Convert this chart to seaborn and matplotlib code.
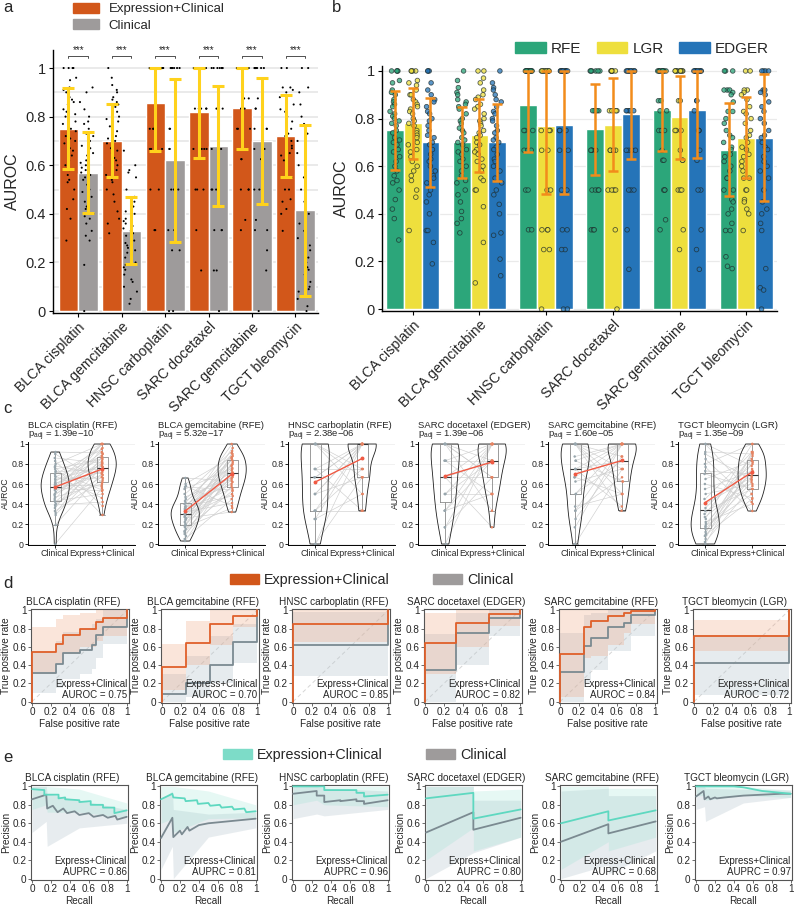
import numpy as np
import pandas as pd
import matplotlib
matplotlib.use("Agg")
import matplotlib.pyplot as plt
import seaborn as sns
from matplotlib.patches import Patch

# ---------------------------------------------------------------- data
drugs = ["BLCA cisplatin", "BLCA gemcitabine", "HNSC carboplatin",
         "SARC docetaxel", "SARC gemcitabine", "TGCT bleomycin"]
methods = ["RFE", "LGR", "EDGER"]
best_method = ["RFE", "RFE", "RFE", "EDGER", "RFE", "LGR"]
models = ["Expression+Clinical", "Clinical"]

# panel b : mean AUROC and SD per feature-selection method
rfe_mean = [0.75, 0.70, 0.855, 0.755, 0.835, 0.67]
rfe_sd = [0.167, 0.15, 0.195, 0.19, 0.17, 0.195]
lgr_mean = [0.78, 0.73, 0.77, 0.775, 0.805, 0.72]
lgr_sd = [0.148, 0.153, 0.285, 0.195, 0.175, 0.17]
edger_mean = [0.70, 0.70, 0.775, 0.82, 0.835, 0.72]
edger_sd = [0.187, 0.163, 0.29, 0.19, 0.20, 0.268]

# individual AUROC values
rfe_points = [
    [1.0, 1.0, 1.0, 1.0, 0.96, 0.95, 0.92, 0.91, 0.9, 0.88, 0.87, 0.86, 0.85, 0.83, 0.82, 0.81, 0.8, 0.79, 0.78, 0.77,
     0.75, 0.74, 0.72, 0.71, 0.7, 0.69, 0.67, 0.66, 0.64, 0.62, 0.6, 0.58, 0.56, 0.54, 0.53, 0.5, 0.46, 0.42, 0.38, 0.29],
    [1.0, 0.96, 0.93, 0.91, 0.9, 0.88, 0.87, 0.86, 0.85, 0.84, 0.82, 0.8, 0.79, 0.78, 0.76, 0.75, 0.74, 0.72, 0.71, 0.7,
     0.69, 0.67, 0.66, 0.65, 0.63, 0.62, 0.6, 0.58, 0.56, 0.54, 0.53, 0.5, 0.48, 0.45, 0.41, 0.38, 0.36, 0.32],
    [1.0, 1.0, 1.0, 1.0, 1.0, 1.0, 1.0, 1.0, 1.0, 1.0, 1.0, 1.0, 0.75, 0.75, 0.75, 0.667, 0.667, 0.667, 0.5, 0.5,
     0.333, 0.333],
    [1.0, 1.0, 1.0, 1.0, 1.0, 1.0, 0.833, 0.833, 0.833, 0.833, 0.833, 0.667, 0.667, 0.667, 0.667, 0.5, 0.5, 0.5, 0.5,
     0.333, 0.333, 0.333],
    [1.0, 1.0, 1.0, 1.0, 1.0, 1.0, 1.0, 1.0, 1.0, 1.0, 0.875, 0.875, 0.833, 0.833, 0.75, 0.75, 0.75, 0.667, 0.625,
     0.625, 0.5, 0.5, 0.5, 0.375, 0.333],
    [1.0, 1.0, 1.0, 0.92, 0.92, 0.92, 0.91, 0.9, 0.87, 0.83, 0.83, 0.8, 0.78, 0.75, 0.73, 0.72, 0.7, 0.68, 0.67, 0.65,
     0.64, 0.62, 0.6, 0.58, 0.55, 0.55, 0.5, 0.5, 0.46, 0.45, 0.42, 0.4, 0.36, 0.33, 0.33, 0.22, 0.18, 0.17],
]
lgr_points = [
    [1.0, 1.0, 1.0, 1.0, 0.96, 0.95, 0.94, 0.92, 0.9, 0.9, 0.88, 0.87, 0.86, 0.85, 0.84, 0.83, 0.82, 0.8, 0.79, 0.78,
     0.77, 0.75, 0.74, 0.73, 0.72, 0.7, 0.69, 0.67, 0.66, 0.64, 0.62, 0.6, 0.58, 0.56, 0.54, 0.5, 0.47, 0.33],
    [1.0, 1.0, 0.97, 0.95, 0.92, 0.9, 0.89, 0.88, 0.86, 0.85, 0.84, 0.82, 0.8, 0.79, 0.78, 0.77, 0.75, 0.74, 0.73, 0.72,
     0.7, 0.69, 0.67, 0.66, 0.65, 0.63, 0.62, 0.6, 0.58, 0.55, 0.54, 0.5, 0.5, 0.43, 0.28, 0.11],
    [1.0, 1.0, 1.0, 1.0, 1.0, 1.0, 1.0, 1.0, 1.0, 1.0, 0.75, 0.75, 0.75, 0.667, 0.667, 0.5, 0.5, 0.333, 0.333, 0.333,
     0.25, 0.25, 0.0],
    [1.0, 1.0, 1.0, 1.0, 1.0, 1.0, 1.0, 0.833, 0.833, 0.833, 0.833, 0.833, 0.667, 0.667, 0.667, 0.667, 0.5, 0.5, 0.5,
     0.5, 0.333, 0.0],
    [1.0, 1.0, 1.0, 1.0, 1.0, 1.0, 1.0, 1.0, 1.0, 0.875, 0.875, 0.75, 0.75, 0.75, 0.667, 0.625, 0.625, 0.5, 0.5, 0.5,
     0.333, 0.25],
    [1.0, 1.0, 0.92, 0.92, 0.91, 0.9, 0.88, 0.85, 0.83, 0.82, 0.8, 0.78, 0.75, 0.73, 0.72, 0.7, 0.68, 0.67, 0.65, 0.64,
     0.62, 0.6, 0.58, 0.55, 0.55, 0.5, 0.5, 0.46, 0.45, 0.42, 0.4, 0.33],
]
edger_points = [
    [1.0, 1.0, 1.0, 0.95, 0.92, 0.9, 0.88, 0.87, 0.85, 0.83, 0.82, 0.8, 0.79, 0.77, 0.75, 0.73, 0.72, 0.7, 0.69, 0.67,
     0.65, 0.63, 0.62, 0.6, 0.58, 0.56, 0.55, 0.53, 0.5, 0.48, 0.45, 0.4, 0.33, 0.33, 0.28, 0.19],
    [1.0, 0.95, 0.93, 0.92, 0.9, 0.88, 0.87, 0.85, 0.83, 0.82, 0.8, 0.79, 0.77, 0.75, 0.74, 0.72, 0.71, 0.7, 0.68, 0.67,
     0.65, 0.63, 0.62, 0.6, 0.58, 0.55, 0.53, 0.5, 0.48, 0.44, 0.4, 0.32, 0.31, 0.21, 0.14],
    [1.0, 1.0, 1.0, 1.0, 1.0, 1.0, 1.0, 1.0, 1.0, 1.0, 1.0, 0.75, 0.75, 0.75, 0.667, 0.667, 0.5, 0.5, 0.333, 0.333,
     0.25, 0.25, 0.0, 0.0],
    [1.0, 1.0, 1.0, 1.0, 1.0, 1.0, 1.0, 1.0, 1.0, 0.833, 0.833, 0.833, 0.833, 0.833, 0.667, 0.667, 0.667, 0.667, 0.5,
     0.5, 0.5, 0.333, 0.167],
    [1.0, 1.0, 1.0, 1.0, 1.0, 1.0, 1.0, 1.0, 1.0, 1.0, 0.875, 0.875, 0.833, 0.75, 0.75, 0.75, 0.667, 0.625, 0.5, 0.5,
     0.333, 0.25, 0.167],
    [1.0, 1.0, 1.0, 1.0, 0.92, 0.92, 0.91, 0.9, 0.87, 0.85, 0.83, 0.8, 0.78, 0.75, 0.73, 0.72, 0.7, 0.68, 0.67, 0.64,
     0.62, 0.6, 0.58, 0.55, 0.5, 0.45, 0.42, 0.4, 0.36, 0.33, 0.17, 0.09, 0.08, 0.0],
]

# panel a : clinical-only model
clin_mean = [0.57, 0.33, 0.62, 0.68, 0.70, 0.415]
clin_sd = [0.167, 0.138, 0.335, 0.248, 0.258, 0.352]
clin_points = [
    [0.62, 0.45, 0.8, 0.55, 0.36, 0.7, 0.58, 0.92, 0.49, 0.67, 0.31, 0.6, 0.75, 0.52, 0.42, 0.86, 0.57, 0.38, 0.64,
     0.29, 0.72, 0.5, 0.61, 0.19, 0.78, 0.54, 0.4, 0.65, 0.33, 0.9, 0.47, 0.59, 0.0, 0.73, 0.56, 0.43, 0.68, 0.39,
     0.83, 0.77],
    [0.35, 0.22, 0.5, 0.13, 0.41, 0.29, 0.6, 0.18, 0.33, 0.45, 0.08, 0.27, 0.38, 0.2, 0.55, 0.31, 0.03, 0.43, 0.25,
     0.36, 0.12, 0.47, 0.3, 0.19, 0.66, 0.24, 0.4, 0.1, 0.34, 0.57, 0.15, 0.28, 0.37, 0.05, 0.32, 0.58, 0.17, 0.26],
    [0.667, 1.0, 0.333, 0.5, 1.0, 0.0, 0.75, 1.0, 0.25, 0.667, 1.0, 0.5, 0.333, 1.0, 0.75, 0.0, 1.0, 0.5, 0.25, 1.0,
     0.333, 0.75],
    [0.5, 1.0, 0.167, 0.833, 0.667, 1.0, 0.333, 0.0, 1.0, 0.667, 0.5, 1.0, 0.833, 0.333, 1.0, 0.667, 0.167, 1.0, 0.5,
     0.833, 0.333, 1.0, 0.667],
    [0.75, 1.0, 0.333, 0.5, 1.0, 0.875, 0.167, 1.0, 0.667, 0.833, 0.25, 1.0, 0.5, 0.75, 0.0, 1.0, 0.625, 0.333, 1.0,
     0.833, 0.375, 1.0, 0.667, 0.75, 1.0],
    [0.25, 0.8, 0.1, 0.45, 0.05, 0.92, 0.3, 0.17, 0.65, 0.0, 0.36, 1.0, 0.12, 0.55, 0.2, 0.73, 0.08, 0.4, 0.27, 0.9,
     0.15, 0.5, 0.02, 0.7, 0.33, 1.0, 0.18, 0.6, 0.09, 0.85, 0.22, 0.77],
]

# panel c : adjusted p-values
padj_text = ["1.39e\u221210", "5.32e\u221217", "2.38e\u221206", "1.39e\u221206", "1.60e\u221205", "1.35e\u221209"]

# panel d : ROC curves (step, post) and confidence bands
roc_expr_fpr = [[0, 0, 0.25, 0.33, 0.5, 0.67, 0.75, 1, 1], [0, 0, 0.25, 0.5, 0.75, 1, 1], [0, 0, 1, 1],
                [0, 0, 0.33, 0.67, 1, 1], [0, 0, 0.25, 0.33, 0.5, 0.67, 0.75, 1, 1], [0, 0, 1, 1]]
roc_expr_tpr = [[0, 0.54, 0.63, 0.73, 0.80, 0.87, 0.92, 0.92, 1.0], [0, 0.38, 0.64, 0.85, 0.94, 0.94, 1.0],
                [0, 0.85, 0.85, 1.0], [0, 0.64, 0.86, 0.96, 0.96, 1.0],
                [0, 0.52, 0.82, 0.88, 0.94, 0.97, 0.99, 0.99, 1.0], [0, 0.72, 0.72, 1.0]]
roc_expr_lo = [[0, 0.30, 0.42, 0.52, 0.60, 0.66, 0.72, 0.72, 1.0], [0, 0.13, 0.40, 0.62, 0.82, 0.82, 1.0],
               [0, 0.65, 0.65, 1.0], [0, 0.30, 0.60, 0.83, 0.83, 1.0],
               [0, 0.05, 0.48, 0.50, 0.62, 0.75, 0.85, 0.85, 1.0], [0, 0.55, 0.55, 1.0]]
roc_expr_hi = [[0, 0.82, 0.90, 0.95, 0.97, 1.0, 1.0, 1.0, 1.0], [0, 0.63, 0.88, 1.0, 1.0, 1.0, 1.0],
               [0, 1.0, 1.0, 1.0], [0, 0.97, 1.0, 1.0, 1.0, 1.0],
               [0, 1.0, 1.0, 1.0, 1.0, 1.0, 1.0, 1.0, 1.0], [0, 0.89, 0.89, 1.0]]
roc_clin_fpr = [[0, 0, 0.25, 0.33, 0.5, 0.63, 0.67, 0.75, 1, 1], [0, 0, 0.25, 0.5, 0.75, 1, 1], [0, 0, 1, 1],
                [0, 0, 0.33, 0.67, 1, 1], [0, 0, 0.25, 0.33, 0.5, 0.67, 0.75, 1, 1], [0, 0, 1, 1]]
roc_clin_tpr = [[0, 0.31, 0.41, 0.53, 0.57, 0.62, 0.73, 0.82, 0.82, 1.0], [0, 0.08, 0.20, 0.40, 0.65, 0.65, 1.0],
                [0, 0.62, 0.62, 1.0], [0, 0.35, 0.75, 0.92, 0.92, 1.0],
                [0, 0.33, 0.61, 0.70, 0.82, 0.86, 0.95, 0.95, 1.0], [0, 0.42, 0.42, 1.0]]
roc_clin_lo = [[0, 0.09, 0.15, 0.25, 0.30, 0.36, 0.48, 0.63, 0.63, 1.0], [0, 0.0, 0.05, 0.20, 0.42, 0.42, 1.0],
               [0, 0.28, 0.28, 1.0], [0, 0.0, 0.40, 0.72, 0.72, 1.0],
               [0, 0.0, 0.20, 0.35, 0.55, 0.55, 0.72, 0.72, 1.0], [0, 0.07, 0.07, 1.0]]
roc_clin_hi = [[0, 0.55, 0.66, 0.76, 0.80, 0.85, 0.90, 1.0, 1.0, 1.0], [0, 0.30, 0.50, 0.72, 0.85, 0.85, 1.0],
               [0, 0.98, 0.98, 1.0], [0, 0.74, 0.97, 1.0, 1.0, 1.0],
               [0, 0.75, 0.95, 0.97, 1.0, 1.0, 1.0, 1.0, 1.0], [0, 0.73, 0.73, 1.0]]
auroc_values = [0.75, 0.70, 0.85, 0.82, 0.84, 0.72]

# panel e : precision-recall curves and confidence bands
pr_expr_recall = [[0, 0.13, 0.13, 0.28, 0.28, 0.35, 0.35, 0.5, 0.5, 0.62, 0.62, 0.75, 0.75, 0.87, 0.87, 1.0],
                  [0, 0.12, 0.13, 0.25, 0.26, 0.38, 0.39, 0.5, 0.52, 0.62, 0.64, 0.75, 0.77, 0.88, 0.9, 1.0],
                  [0, 0.33, 0.33, 0.67, 0.67, 0.75, 0.75, 1.0],
                  [0, 0.5, 0.5, 1.0], [0, 0.5, 0.5, 1.0],
                  [0, 0.4, 0.5, 0.6, 0.7, 0.8, 0.9, 1.0]]
pr_expr_precision = [[0.97, 0.96, 0.91, 0.91, 0.87, 0.88, 0.86, 0.85, 0.83, 0.84, 0.80, 0.80, 0.77, 0.77, 0.71, 0.74],
                     [0.86, 0.92, 0.88, 0.87, 0.84, 0.85, 0.81, 0.82, 0.79, 0.80, 0.77, 0.78, 0.75, 0.76, 0.72, 0.73],
                     [1.0, 1.0, 0.96, 0.96, 0.93, 0.93, 0.89, 0.91],
                     [0.87, 0.93, 0.65, 0.75], [0.60, 0.73, 0.63, 0.74],
                     [1.0, 1.0, 0.99, 0.97, 0.95, 0.94, 0.93, 0.92]]
pr_clin_recall = [[0, 0.15, 0.16, 0.22, 0.27, 0.33, 0.37, 0.45, 0.5, 0.6, 0.65, 0.75, 0.8, 0.88, 0.9, 1.0],
                  [0, 0.12, 0.13, 0.2, 0.22, 0.28, 0.3, 0.4, 0.5, 0.6, 0.7, 0.8, 0.9, 1.0],
                  [0, 0.25, 0.25, 0.33, 0.33, 0.5, 0.5, 0.67, 0.67, 0.75, 0.75, 1.0],
                  [0, 0.5, 0.5, 1.0], [0, 0.5, 0.5, 1.0],
                  [0, 0.08, 0.09, 0.13, 0.15, 0.2, 0.22, 0.3, 0.5, 0.7, 0.9, 1.0]]
pr_clin_precision = [[0.86, 0.91, 0.76, 0.79, 0.72, 0.76, 0.71, 0.73, 0.69, 0.71, 0.67, 0.69, 0.66, 0.68, 0.64, 0.67],
                     [0.44, 0.66, 0.45, 0.52, 0.48, 0.56, 0.52, 0.58, 0.60, 0.61, 0.62, 0.63, 0.64, 0.65],
                     [0.92, 0.95, 0.90, 0.90, 0.83, 0.85, 0.84, 0.86, 0.84, 0.84, 0.81, 0.85],
                     [0.50, 0.72, 0.53, 0.66], [0.40, 0.59, 0.49, 0.62],
                     [0.89, 0.95, 0.86, 0.89, 0.86, 0.88, 0.87, 0.88, 0.90, 0.91, 0.92, 0.92]]
pr_band_recall = [[0, 0.15, 0.16, 0.5, 1.0], [0, 0.12, 0.13, 0.5, 1.0], [0, 0.25, 0.33, 1.0],
                  [0, 0.5, 0.5, 1.0], [0, 0.5, 0.5, 1.0], [0, 0.09, 0.1, 0.5, 1.0]]
pr_expr_lo = [[0.75, 0.80, 0.72, 0.72, 0.66], [0.60, 0.65, 0.50, 0.65, 0.66], [0.80, 0.85, 0.80, 0.78],
              [0.20, 0.55, 0.30, 0.45], [0.10, 0.40, 0.30, 0.45], [0.90, 0.90, 0.85, 0.90, 0.88]]
pr_expr_hi = [[1.0, 1.0, 1.0, 0.97, 0.82], [1.0, 1.0, 1.0, 0.95, 0.80], [1.0, 1.0, 1.0, 1.0],
              [1.0, 1.0, 0.95, 0.97], [1.0, 1.0, 0.98, 0.98], [1.0, 1.0, 1.0, 1.0, 0.96]]
pr_clin_lo = [[0.50, 0.62, 0.35, 0.55, 0.60], [0.10, 0.35, 0.0, 0.45, 0.55], [0.65, 0.70, 0.68, 0.75],
              [0.0, 0.28, 0.28, 0.45], [0.0, 0.15, 0.05, 0.30], [0.75, 0.78, 0.62, 0.82, 0.88]]
pr_clin_hi = [[1.0, 1.0, 0.92, 0.85, 0.75], [0.85, 0.95, 0.75, 0.70, 0.72], [1.0, 1.0, 0.98, 0.95],
              [1.0, 1.0, 0.85, 0.85], [0.95, 0.98, 0.90, 0.90], [1.0, 1.0, 0.98, 0.97, 0.96]]
auprc_values = [0.86, 0.81, 0.96, 0.80, 0.68, 0.97]

# ---------------------------------------------------------------- style
sns.set_theme(style="white")
plt.rcParams["font.family"] = ["Liberation Sans", "DejaVu Sans"]
plt.rcParams["mathtext.fontset"] = "custom"
plt.rcParams["mathtext.rm"] = "Liberation Sans"
plt.rcParams["mathtext.it"] = "Liberation Sans:italic"

C_EXPR = "#D2571A"
C_CLIN = "#9E9B9B"
C_GOLD = "#FFD21C"
C_METH = {"RFE": "#2CA67A", "LGR": "#EEDF3D", "EDGER": "#2574B8"}
C_ERR_B = "#F28C1B"
C_ROC_E = "#E0602A"
C_ROC_C = "#7B8A91"
C_PR_E = "#5ED8C0"

W, H = 794, 910
fig = plt.figure(figsize=(W / 100, H / 100), dpi=100)


def px_axes(left, top, right, bottom):
    return fig.add_axes([left / W, 1 - bottom / H, (right - left) / W, (bottom - top) / H])


np.random.seed(7)
method_means = {"RFE": rfe_mean, "LGR": lgr_mean, "EDGER": edger_mean}
method_sds = {"RFE": rfe_sd, "LGR": lgr_sd, "EDGER": edger_sd}
method_points = {"RFE": rfe_points, "LGR": lgr_points, "EDGER": edger_points}
expr_mean = [method_means[m][i] for i, m in enumerate(best_method)]
expr_sd = [method_sds[m][i] for i, m in enumerate(best_method)]
expr_points = [method_points[m][i] for i, m in enumerate(best_method)]
tick_vals = [0, 0.2, 0.4, 0.6, 0.8, 1.0]
tick_labs = ["0", "0.2", "0.4", "0.6", "0.8", "1"]

# ---------------------------------------------------------------- panel a
axA = px_axes(53, 49.8, 318, 313)
sum_a = pd.DataFrame({"drug": drugs * 2,
                      "model": [models[0]] * 6 + [models[1]] * 6,
                      "auroc": expr_mean + clin_mean})
pts_a = pd.DataFrame({
    "drug": [d for d, p in zip(drugs, expr_points) for _ in p] + [d for d, p in zip(drugs, clin_points) for _ in p],
    "model": [models[0]] * sum(len(p) for p in expr_points) + [models[1]] * sum(len(p) for p in clin_points),
    "auroc": [v for p in expr_points for v in p] + [v for p in clin_points for v in p]})
sns.barplot(data=sum_a, x="drug", y="auroc", hue="model", order=drugs, hue_order=models,
            palette=[C_EXPR, C_CLIN], width=0.9, errorbar=None, saturation=1, legend=False, ax=axA)
conts_a = list(axA.containers)
sns.stripplot(data=pts_a, x="drug", y="auroc", hue="model", order=drugs, hue_order=models,
              palette=["black", "black"], dodge=True, jitter=0.32, size=1.5, linewidth=0, legend=False, ax=axA)
for h, (means, sds) in enumerate([(expr_mean, expr_sd), (clin_mean, clin_sd)]):
    for i, bar in enumerate(conts_a[h]):
        xc = bar.get_x() + bar.get_width() / 2
        m, s = means[i], sds[i]
        lo, hi = max(m - s, 0), min(m + s, 1)
        axA.errorbar(xc, m, yerr=[[m - lo], [hi - m]], color=C_GOLD, elinewidth=2.2, capsize=4, capthick=2.2, zorder=5)
for i in range(6):
    b0, b1 = conts_a[0][i], conts_a[1][i]
    x0 = b0.get_x() + b0.get_width() / 2
    x1 = b1.get_x() + b1.get_width() / 2
    axA.plot([x0, x0, x1, x1], [1.04, 1.05, 1.05, 1.04], color="#333333", lw=0.6)
    axA.text((x0 + x1) / 2, 1.052, "***", ha="center", va="bottom", fontsize=7)
axA.set_ylim(-0.008, 1.075)
axA.set_xlim(-0.58, 5.52)
axA.set_yticks(tick_vals)
axA.set_yticklabels(tick_labs, fontsize=10.5)
axA.set_yticks(np.arange(0.1, 1.0, 0.2), minor=True)
axA.yaxis.grid(True, which="both", color="#E4E4E4", lw=1.1)
axA.set_axisbelow(True)
axA.set_xticks(range(6))
axA.set_xticklabels(drugs, rotation=45, ha="right", rotation_mode="anchor", fontsize=10.2)
axA.set_xlabel("")
axA.set_ylabel("AUROC", fontsize=11.5, labelpad=4)
axA.tick_params(axis="both", which="major", length=3, width=0.8, color="black", left=True, bottom=True, pad=2)
axA.tick_params(axis="y", which="minor", length=0)
for sp in ["top", "right"]:
    axA.spines[sp].set_visible(False)
for sp in ["left", "bottom"]:
    axA.spines[sp].set_color("black")
    axA.spines[sp].set_linewidth(1.0)
fig.legend(handles=[Patch(color=C_EXPR), Patch(color=C_CLIN)], labels=models, loc="upper left",
           bbox_to_anchor=(73 / W, 1 - 3 / H), frameon=False, fontsize=9.5, handlelength=2.0,
           handleheight=0.75, handletextpad=0.7, labelspacing=0.3, borderpad=0, borderaxespad=0)

# ---------------------------------------------------------------- panel b
axB = px_axes(382, 66.2, 777, 311)
sum_b = pd.DataFrame({"drug": drugs * 3,
                      "method": [m for m in methods for _ in drugs],
                      "auroc": rfe_mean + lgr_mean + edger_mean})
pts_b = pd.DataFrame({
    "drug": [d for m in methods for d, p in zip(drugs, method_points[m]) for _ in p],
    "method": [m for m in methods for p in method_points[m] for _ in p],
    "auroc": [v for m in methods for p in method_points[m] for v in p]})
sns.barplot(data=sum_b, x="drug", y="auroc", hue="method", order=drugs, hue_order=methods,
            palette=[C_METH[m] for m in methods], width=0.8, errorbar=None, saturation=1, legend=False, ax=axB)
conts_b = list(axB.containers)
sns.stripplot(data=pts_b, x="drug", y="auroc", hue="method", order=drugs, hue_order=methods,
              palette=[C_METH[m] for m in methods], dodge=True, jitter=0.22, size=3.3, linewidth=0.6,
              edgecolor="#1E2B2B", alpha=0.75, legend=False, ax=axB)
for h, m_name in enumerate(methods):
    for i, bar in enumerate(conts_b[h]):
        xc = bar.get_x() + bar.get_width() / 2
        m, s = method_means[m_name][i], method_sds[m_name][i]
        lo, hi = max(m - s, 0), min(m + s, 1)
        axB.errorbar(xc, m, yerr=[[m - lo], [hi - m]], color=C_ERR_B, elinewidth=1.8, capsize=3.5, capthick=1.8,
                     zorder=5)
axB.set_ylim(-0.008, 1.02)
axB.set_xlim(-0.46, 5.46)
axB.set_yticks(tick_vals)
axB.set_yticklabels(tick_labs, fontsize=10.5)
axB.yaxis.grid(True, color="#EAEAEA", lw=0.9)
axB.set_axisbelow(True)
axB.set_xticks(range(6))
axB.set_xticklabels(drugs, rotation=45, ha="right", rotation_mode="anchor", fontsize=10.2)
axB.set_xlabel("")
axB.set_ylabel("AUROC", fontsize=11.5, labelpad=4)
axB.tick_params(axis="both", length=3, width=0.8, color="black", left=True, bottom=True, pad=2)
for sp in ["top", "right"]:
    axB.spines[sp].set_visible(False)
for sp in ["left", "bottom"]:
    axB.spines[sp].set_color("black")
    axB.spines[sp].set_linewidth(1.0)
fig.legend(handles=[Patch(color=C_METH[m]) for m in methods], labels=methods, loc="center left",
           bbox_to_anchor=(515 / W, 1 - 49 / H), ncol=3, frameon=False, fontsize=11, handlelength=2.0,
           handleheight=0.75, handletextpad=0.35, columnspacing=1.0, borderpad=0, borderaxespad=0)

# ---------------------------------------------------------------- panel c
c_lefts = [28, 158, 288, 418, 548, 678]
groups = ["Clinical", "Express+Clinical"]
for i in range(6):
    ax = px_axes(c_lefts[i], 442, c_lefts[i] + 107, 545)
    clin = clin_points[i]
    expr = expr_points[i]
    df = pd.DataFrame({"group": [groups[0]] * len(clin) + [groups[1]] * len(expr), "auroc": clin + expr})
    for c_v, e_v in zip(clin, expr):
        ax.plot([0, 1], [c_v, e_v], color="#CFCFCF", lw=0.45, zorder=1)
    sns.violinplot(data=df, x="group", y="auroc", order=groups, fill=False, color="#1F1F1F", linewidth=0.6,
                   inner=None, cut=0, width=0.6, density_norm="width", ax=ax)
    sns.boxplot(data=df, x="group", y="auroc", order=groups, fill=False, color="#8A8A8A", linewidth=0.6,
                width=0.24, showfliers=False, medianprops={"color": "#333333", "linewidth": 0.8}, ax=ax)
    sns.stripplot(data=df, x="group", y="auroc", order=groups, hue="group", hue_order=groups,
                  palette=["#98A6AD", "#E58463"], jitter=0.015, size=1.8, linewidth=0, legend=False, ax=ax)
    ax.plot([0, 1], [clin_mean[i], expr_mean[i]], color="#F05A44", lw=1.0, marker="o", ms=1.8, zorder=6)
    ax.set_ylim(-0.01, 1.02)
    ax.set_xlim(-0.58, 1.7)
    ax.set_yticks(tick_vals)
    ax.set_yticklabels(tick_labs, fontsize=6.3)
    ax.yaxis.grid(True, color="#EFEFEF", lw=0.6)
    ax.set_axisbelow(True)
    ax.set_xticks([0, 1])
    ax.set_xticklabels(groups, fontsize=6.3)
    ax.set_xlabel("")
    ax.set_ylabel("AUROC", fontsize=6.3, labelpad=1)
    ax.tick_params(axis="both", length=2, width=0.6, color="black", left=True, bottom=True, pad=1)
    for sp in ["top", "right"]:
        ax.spines[sp].set_visible(False)
    for sp in ["left", "bottom"]:
        ax.spines[sp].set_color("black")
        ax.spines[sp].set_linewidth(0.7)
    ax.text(0.0, 1.16, f"{drugs[i]} ({best_method[i]})", transform=ax.transAxes, fontsize=6.8,
            ha="left", va="center")
    ax.text(0.0, 1.055, r"$\mathregular{p_{adj}}$" + f" = {padj_text[i]}", transform=ax.transAxes,
            fontsize=6.8, ha="left", va="center")


# ---------------------------------------------------------------- panels d, e
def frame(ax, xlabel, ylabel):
    ax.set_xlim(-0.015, 1.015)
    ax.set_ylim(-0.015, 1.015)
    ax.set_xticks(tick_vals)
    ax.set_xticklabels(tick_labs, fontsize=7.2)
    ax.set_yticks(tick_vals)
    ax.set_yticklabels(tick_labs, fontsize=7.2)
    ax.set_xlabel(xlabel, fontsize=7.2, labelpad=1)
    ax.set_ylabel(ylabel, fontsize=7.2, labelpad=1)
    ax.tick_params(axis="both", length=2, width=0.6, color="#555555", left=True, bottom=True, pad=1)
    for sp in ax.spines.values():
        sp.set_visible(True)
        sp.set_color("#555555")
        sp.set_linewidth(0.8)
    ax.grid(False)


d_zero = [32, 162, 293, 425, 560, 694]
for i in range(6):
    ax = px_axes(d_zero[i] - 1.4, 609, d_zero[i] - 1.4 + 97.9, 703)
    ax.plot([0, 1], [0, 1], color="#D5D5D5", lw=0.7, ls=(0, (4, 3)), zorder=1)
    ax.fill_between(roc_clin_fpr[i], roc_clin_lo[i], roc_clin_hi[i], step="post", color="#B9C7CF", alpha=0.35,
                    lw=0, zorder=2)
    ax.fill_between(roc_expr_fpr[i], roc_expr_lo[i], roc_expr_hi[i], step="post", color="#EFA27C", alpha=0.28,
                    lw=0, zorder=2)
    sns.lineplot(x=roc_clin_fpr[i], y=roc_clin_tpr[i], sort=False, estimator=None, drawstyle="steps-post",
                 color=C_ROC_C, lw=1.3, ax=ax, zorder=3)
    sns.lineplot(x=roc_expr_fpr[i], y=roc_expr_tpr[i], sort=False, estimator=None, drawstyle="steps-post",
                 color=C_ROC_E, lw=1.3, ax=ax, zorder=4)
    frame(ax, "False positive rate", "True positive rate")
    ax.text(0.43, 1.025, f"{drugs[i]} ({best_method[i]})", transform=ax.transAxes, fontsize=7.2,
            ha="center", va="bottom")
    ax.text(0.985, 0.03, f"Express+Clinical\nAUROC = {auroc_values[i]:.2f}", transform=ax.transAxes,
            ha="right", va="bottom", fontsize=7.0, linespacing=1.15)
fig.legend(handles=[Patch(color=C_EXPR), Patch(color=C_CLIN)], labels=models, loc="center left",
           bbox_to_anchor=(230 / W, 1 - 580 / H), ncol=2, frameon=False, fontsize=10.3, handlelength=2.0,
           handleheight=0.7, handletextpad=0.4, columnspacing=3.0, borderpad=0, borderaxespad=0)

e_zero = [32, 161, 293, 426, 561, 696]
for i in range(6):
    ax = px_axes(e_zero[i] - 1.4, 785, e_zero[i] - 1.4 + 97.5, 880)
    ax.fill_between(pr_band_recall[i], pr_clin_lo[i], pr_clin_hi[i], color="#B9C7CF", alpha=0.33, lw=0, zorder=2)
    ax.fill_between(pr_band_recall[i], pr_expr_lo[i], pr_expr_hi[i], color="#8FE0CF", alpha=0.22, lw=0, zorder=2)
    sns.lineplot(x=pr_clin_recall[i], y=pr_clin_precision[i], sort=False, estimator=None, color=C_ROC_C, lw=1.3,
                 ax=ax, zorder=3)
    sns.lineplot(x=pr_expr_recall[i], y=pr_expr_precision[i], sort=False, estimator=None, color=C_PR_E, lw=1.3,
                 ax=ax, zorder=4)
    frame(ax, "Recall", "Precision")
    ax.text(0.43, 1.025, f"{drugs[i]} ({best_method[i]})", transform=ax.transAxes, fontsize=7.2,
            ha="center", va="bottom")
    ax.text(0.985, 0.03, f"Express+Clinical\nAUPRC = {auprc_values[i]:.2f}", transform=ax.transAxes,
            ha="right", va="bottom", fontsize=7.0, linespacing=1.15)
fig.legend(handles=[Patch(color="#7DDCC8"), Patch(color=C_CLIN)], labels=models, loc="center left",
           bbox_to_anchor=(223 / W, 1 - 755 / H), ncol=2, frameon=False, fontsize=10.3, handlelength=2.0,
           handleheight=0.7, handletextpad=0.4, columnspacing=3.0, borderpad=0, borderaxespad=0)

# panel letters
for lab, (x, y) in zip("abcde", [(3, 8), (332, 8), (3, 409), (3, 583), (3, 757)]):
    fig.text(x / W, 1 - y / H, lab, fontsize=12, ha="left", va="center")

fig.savefig("out.png", dpi=100)
